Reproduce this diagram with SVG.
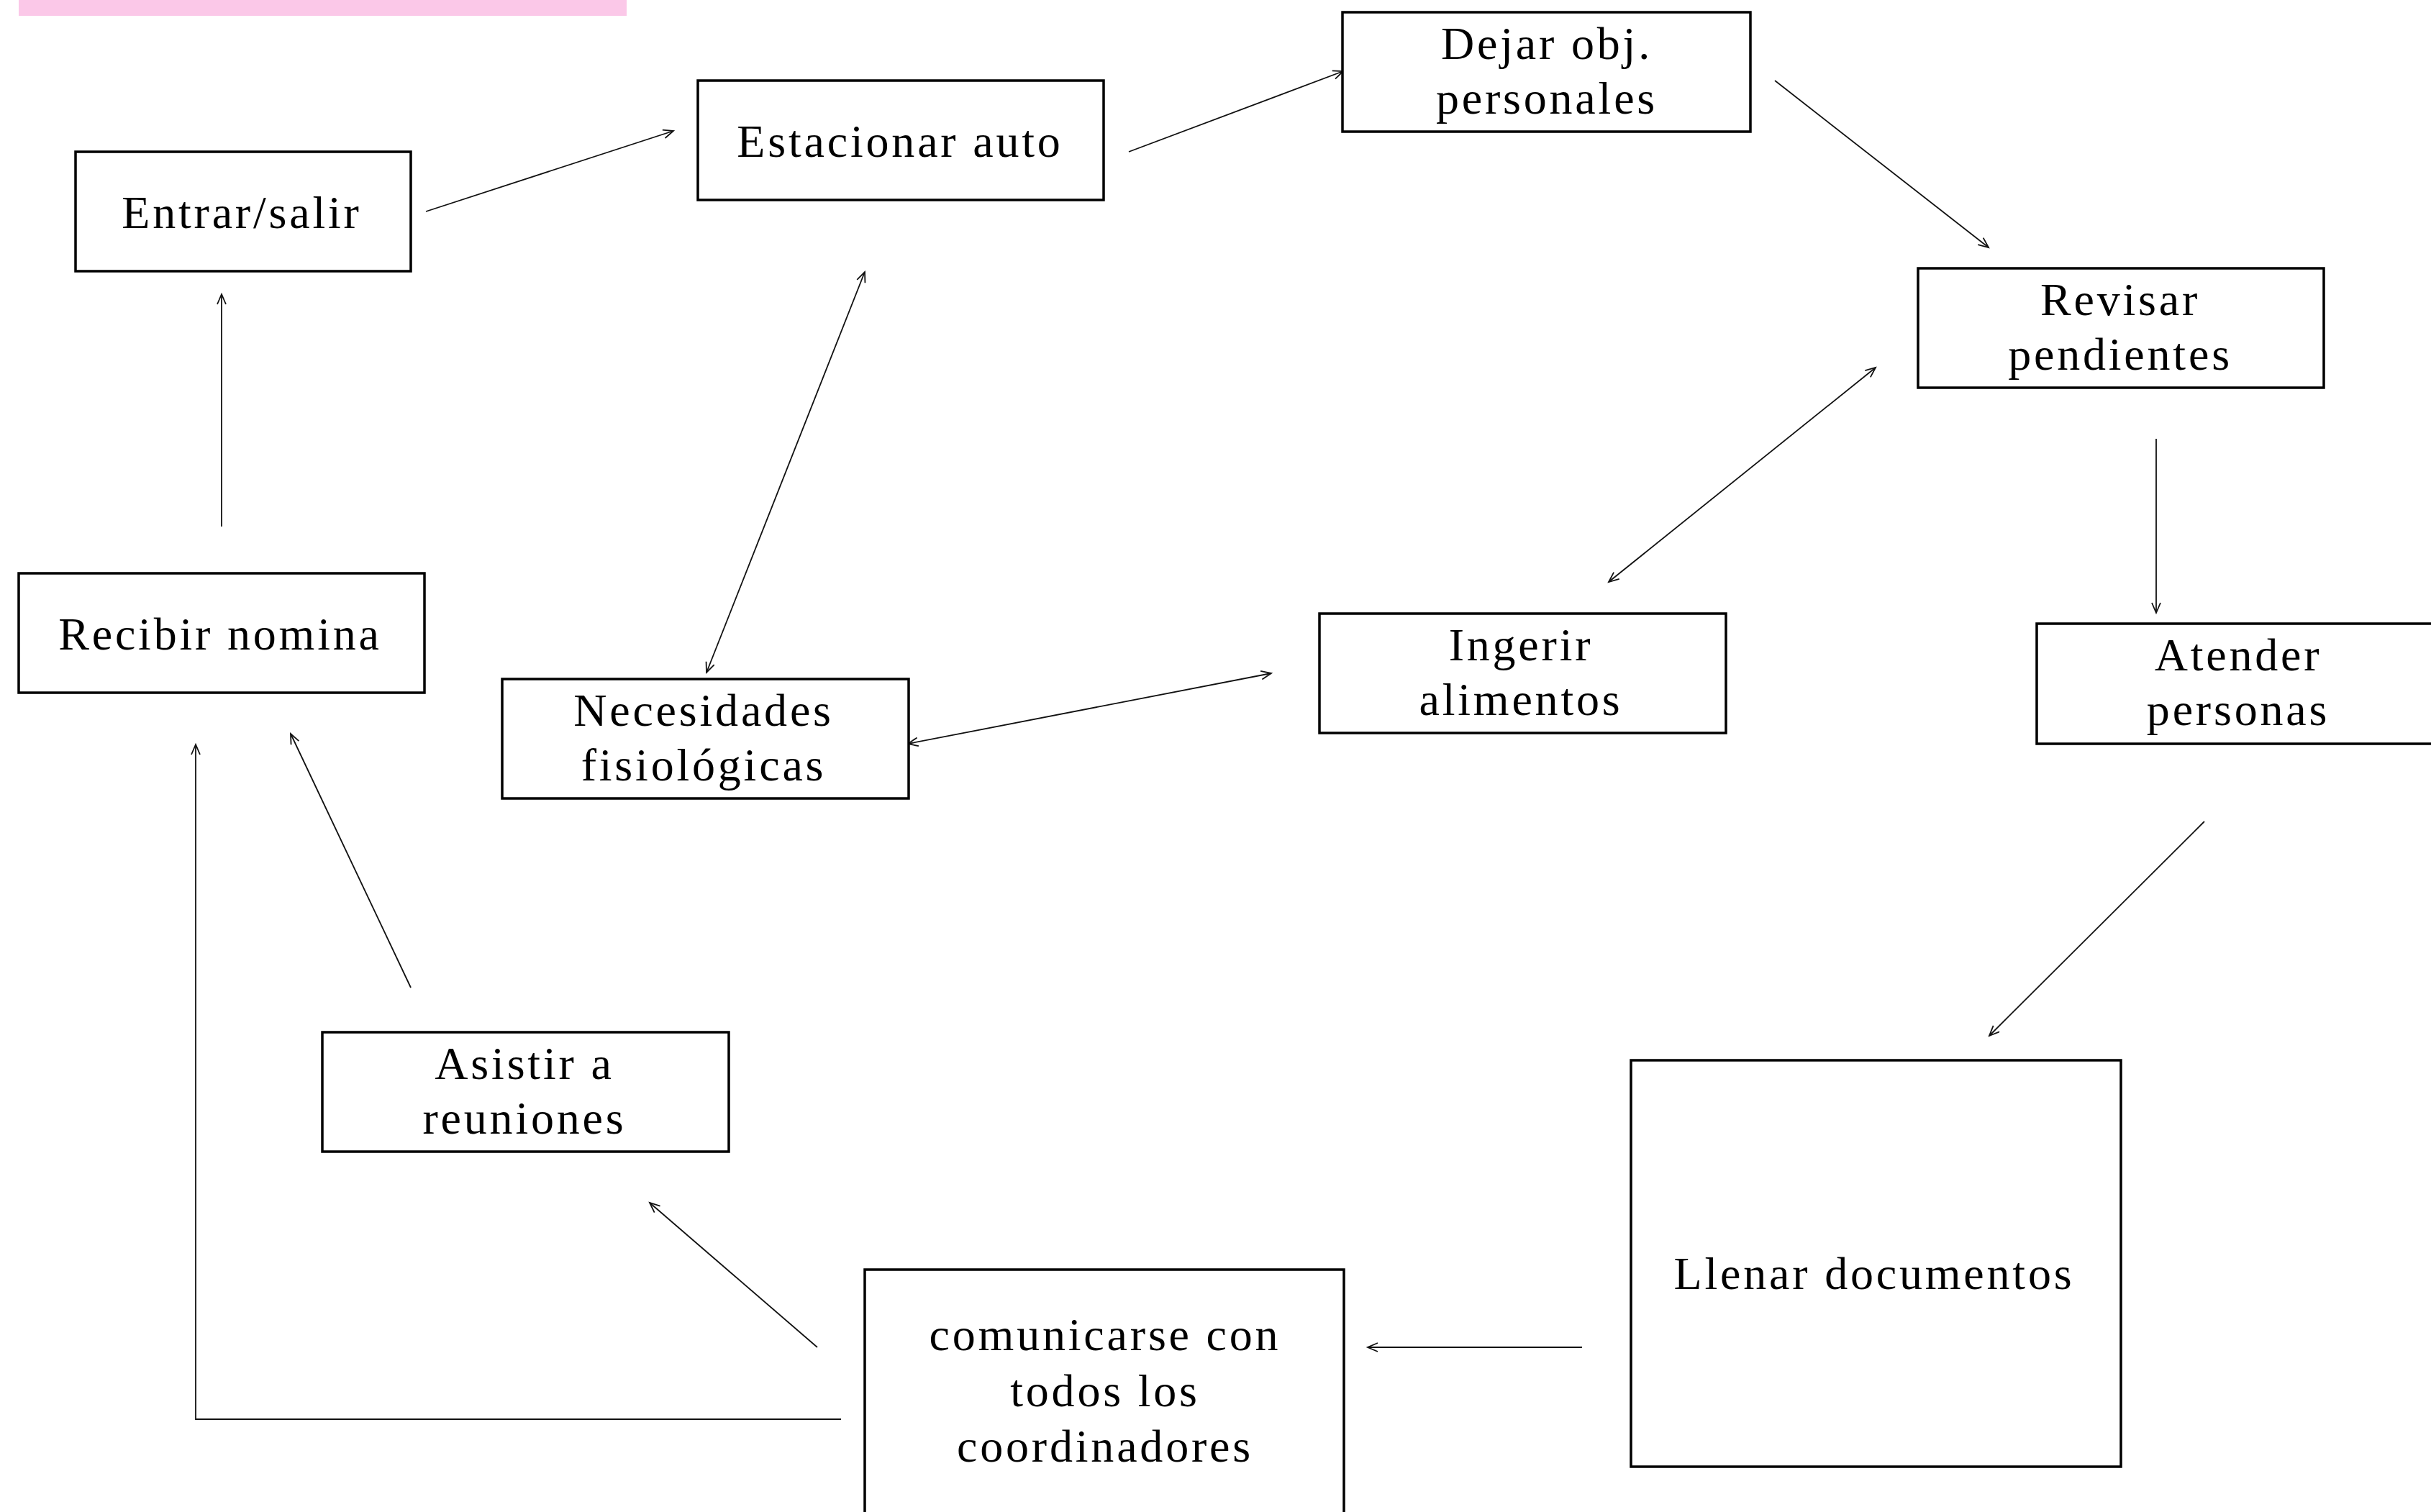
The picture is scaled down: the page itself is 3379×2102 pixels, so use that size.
<svg xmlns="http://www.w3.org/2000/svg" width="3379" height="2102" viewBox="0 0 3379 2102">
<style>
.box{fill:#fff;stroke:#000;stroke-width:3.5}
.lbl{font-family:"Liberation Serif","Times New Roman",serif;font-size:64px;letter-spacing:3.8px;fill:#000;text-anchor:middle}
.con{fill:none;stroke:#111;stroke-width:1.8}
</style>
<defs>
<marker id="ah" markerUnits="userSpaceOnUse" markerWidth="20" markerHeight="16" refX="15" refY="7" orient="auto-start-reverse" viewBox="0 0 20 16">
<path d="M1,1 L15,7 L1,13" fill="none" stroke="#111" stroke-width="1.8"/>
</marker>
</defs>
<rect x="0" y="0" width="3379" height="2102" fill="#fff"/>
<rect x="26" y="0" width="845" height="22" fill="#fbc8e8"/>

<g id="connectors">
<line class="con" x1="592" y1="294" x2="936" y2="182" marker-end="url(#ah)"/>
<line class="con" x1="1569" y1="211" x2="1867" y2="99" marker-end="url(#ah)"/>
<line class="con" x1="2467" y1="112" x2="2764" y2="344" marker-end="url(#ah)"/>
<line class="con" x1="2997" y1="610" x2="2997" y2="852" marker-end="url(#ah)"/>
<line class="con" x1="3064" y1="1142" x2="2765" y2="1440" marker-end="url(#ah)"/>
<line class="con" x1="2199" y1="1873" x2="1901" y2="1873" marker-end="url(#ah)"/>
<line class="con" x1="1136" y1="1873" x2="903" y2="1672" marker-end="url(#ah)"/>
<polyline class="con" points="1169,1973 272,1973 272,1035" marker-end="url(#ah)"/>
<line class="con" x1="571" y1="1373" x2="404" y2="1020" marker-end="url(#ah)"/>
<line class="con" x1="308" y1="732" x2="308" y2="409" marker-end="url(#ah)"/>
<line class="con" x1="982" y1="935" x2="1202" y2="378" marker-start="url(#ah)" marker-end="url(#ah)"/>
<line class="con" x1="1262" y1="1034" x2="1767" y2="936" marker-start="url(#ah)" marker-end="url(#ah)"/>
<line class="con" x1="2236" y1="809" x2="2607" y2="511" marker-start="url(#ah)" marker-end="url(#ah)"/>
</g>

<g id="n-entrar"><rect class="box" x="105" y="211" width="466" height="166"/><text class="lbl" x="336" y="317">Entrar/salir</text></g>
<g id="n-estacionar"><rect class="box" x="970" y="112" width="564" height="166"/><text class="lbl" x="1251" y="218">Estacionar auto</text></g>
<g id="n-dejar"><rect class="box" x="1866" y="17" width="567" height="166"/><text class="lbl" x="2150" y="82">Dejar obj.</text><text class="lbl" x="2150" y="158">personales</text></g>
<g id="n-revisar"><rect class="box" x="2666" y="373" width="564" height="166"/><text class="lbl" x="2947" y="438">Revisar</text><text class="lbl" x="2947" y="514">pendientes</text></g>
<g id="n-recibir"><rect class="box" x="26" y="797" width="564" height="166"/><text class="lbl" x="306" y="903">Recibir nomina</text></g>
<g id="n-necesidades"><rect class="box" x="698" y="944" width="565" height="166"/><text class="lbl" x="978" y="1009">Necesidades</text><text class="lbl" x="978" y="1085">fisiológicas</text></g>
<g id="n-ingerir"><rect class="box" x="1834" y="853" width="565" height="166"/><text class="lbl" x="2114" y="918">Ingerir</text><text class="lbl" x="2114" y="994">alimentos</text></g>
<g id="n-atender"><rect class="box" x="2831" y="867" width="565" height="167"/><text class="lbl" x="3111" y="932">Atender</text><text class="lbl" x="3111" y="1008">personas</text></g>
<g id="n-asistir"><rect class="box" x="448" y="1435" width="565" height="166"/><text class="lbl" x="729" y="1500">Asistir a</text><text class="lbl" x="729" y="1576">reuniones</text></g>
<g id="n-comunicarse"><rect class="box" x="1202" y="1765" width="666" height="345"/><text class="lbl" x="1536" y="1877">comunicarse con</text><text class="lbl" x="1536" y="1955">todos los</text><text class="lbl" x="1536" y="2032">coordinadores</text></g>
<g id="n-llenar"><rect class="box" x="2267" y="1474" width="681" height="565"/><text class="lbl" x="2605" y="1792">Llenar documentos</text></g>
</svg>
